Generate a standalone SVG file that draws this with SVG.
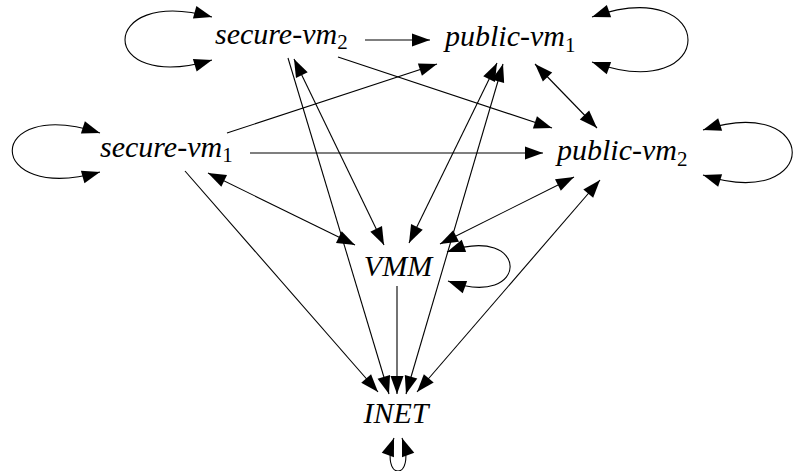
<svg xmlns="http://www.w3.org/2000/svg" width="795" height="471" viewBox="0 0 795 471">
  <style>
    .lbl { font-family: "Liberation Serif", "Times New Roman", serif; font-style: italic; font-size: 30px; fill: #000; }
    .sub { font-size: 21px; font-style: normal; }
    .edge { fill: none; stroke: #000; stroke-width: 1.1; }
    .one { marker-end: url(#head); }
    .two { marker-start: url(#head); marker-end: url(#head); }
  </style>
  <defs>
    <marker id="head" markerUnits="userSpaceOnUse" markerWidth="20" markerHeight="14" refX="18" refY="6.5" orient="auto-start-reverse" overflow="visible">
      <path d="M0,0 L18,6.5 L0,13 Z" fill="#000"/>
    </marker>
  </defs>
  <rect width="795" height="471" fill="#fff"/>

  <g id="connectors">
    <!-- self loops -->
    <path class="edge two" d="M212,17 C96,-15 96,95 212,60"/>
    <path class="edge two" d="M592,17 C720,-28 720,108 592,62"/>
    <path class="edge two" d="M100,133 C-17,95 -17,205 100,172"/>
    <path class="edge two" d="M703,130 C822,92 822,213 703,175"/>
    <path class="edge two" d="M447,252 C531,222 531,311 448,281"/>
    <path class="edge two" d="M394,438 C378,482 418,482 402,438"/>
    <!-- secure-vm2 -->
    <path class="edge one" d="M365,40 L430,40"/>
    <path class="edge one" d="M338,57 L552,128"/>
    <path class="edge one" d="M288,58 L389,394"/>
    <path class="edge two" d="M294,59 L384,245"/>
    <!-- secure-vm1 -->
    <path class="edge one" d="M227,133 L437,64"/>
    <path class="edge one" d="M250,153 L543,153"/>
    <path class="edge two" d="M208,173 L355,245"/>
    <path class="edge one" d="M185,171 L378,392"/>
    <!-- public-vm1 -->
    <path class="edge two" d="M535,64 L597,128"/>
    <path class="edge two" d="M497,63 L409,243"/>
    <path class="edge two" d="M503,64 L406,394"/>
    <!-- public-vm2 -->
    <path class="edge two" d="M574,177 L440,244"/>
    <path class="edge two" d="M600,180 L417,392"/>
    <!-- VMM -->
    <path class="edge one" d="M397,286 L397,394"/>
  </g>

  <g id="secure-vm2"><text class="lbl" x="215" y="44">secure-vm<tspan class="sub" dy="5">2</tspan></text></g>
  <g id="public-vm1"><text class="lbl" x="445" y="46">public-vm<tspan class="sub" dy="6">1</tspan></text></g>
  <g id="secure-vm1"><text class="lbl" x="100" y="157">secure-vm<tspan class="sub" dy="5">1</tspan></text></g>
  <g id="public-vm2"><text class="lbl" x="557" y="160">public-vm<tspan class="sub" dy="6">2</tspan></text></g>
  <g id="VMM"><text class="lbl" x="398" y="276" text-anchor="middle">VMM</text></g>
  <g id="INET"><text class="lbl" x="396" y="423" text-anchor="middle">INET</text></g>
</svg>
